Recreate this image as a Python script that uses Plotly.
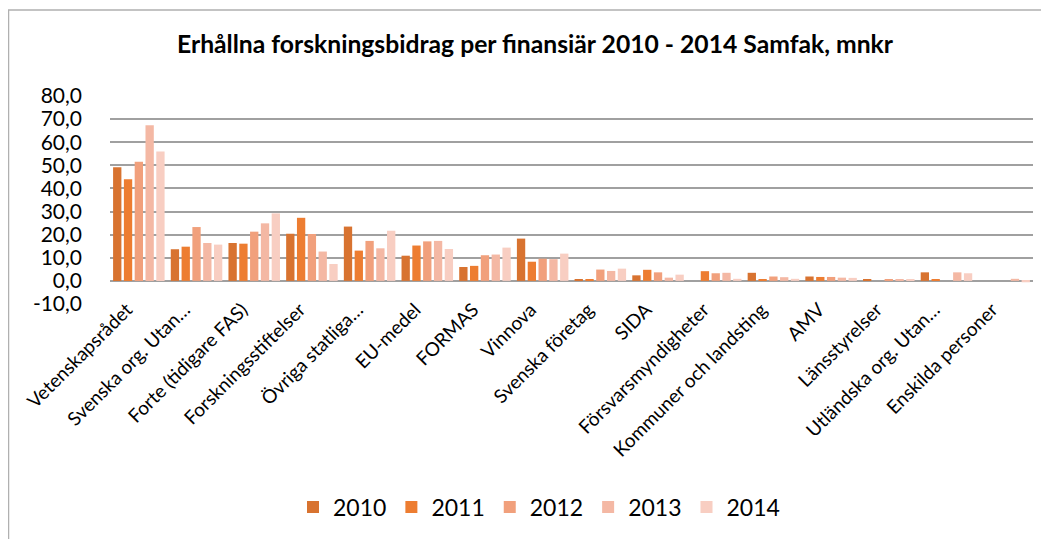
import plotly.graph_objects as go

categories = [
    "Vetenskapsrådet", "Svenska org. Utan…", "Forte (tidigare FAS)",
    "Forskningsstiftelser", "Övriga statliga…", "EU-medel", "FORMAS",
    "Vinnova", "Svenska företag", "SIDA", "Försvarsmyndigheter",
    "Kommuner och landsting", "AMV", "Länsstyrelser",
    "Utländska org. Utan…", "Enskilda personer",
]
years = ["2010", "2011", "2012", "2013", "2014"]
v2010 = [49.2, 13.7, 16.4, 20.4, 23.5, 10.9, 6.0, 18.3, 0.7, 2.4, 0.0, 3.5, 1.9, 0.5, 3.7, 0.0]
v2011 = [44.0, 14.8, 16.1, 27.3, 13.1, 15.3, 6.5, 8.3, 0.4, 4.8, 4.2, 0.6, 1.7, 0.0, 0.4, 0.0]
v2012 = [51.5, 23.3, 21.3, 20.3, 17.3, 17.1, 11.1, 9.6, 4.9, 3.7, 3.3, 1.9, 1.7, 0.4, 0.0, 0.0]
v2013 = [67.3, 16.4, 24.9, 12.7, 14.1, 17.3, 11.4, 9.4, 4.3, 1.4, 3.5, 1.6, 1.4, 0.7, 3.7, 0.9]
v2014 = [56.0, 15.7, 29.2, 7.3, 21.7, 13.8, 14.4, 11.8, 5.3, 2.7, 0.9, 0.9, 1.3, 0.4, 3.3, -0.6]
series = [v2010, v2011, v2012, v2013, v2014]
colors = ["#D87330", "#ED7D31", "#F1A07C", "#F4B8A4", "#F8CEC2"]

y_ticks = [-10, 0, 10, 20, 30, 40, 50, 60, 70, 80]
y_ticktext = [f"{t:.1f}".replace(".", ",") for t in y_ticks]

FONT = "Lato"

fig = go.Figure()
for name, vals, col in zip(years, series, colors):
    fig.add_trace(go.Bar(name=name, x=categories, y=vals, marker_color=col,
                         marker_line_width=0))

# the page body has an 8px margin; target plot area in screen pixels: x 110..1033, y 96..304
OFF = 8
SL, SR, ST, SB = 110, 1033, 96, 304
W, H = 1049 - OFF, 539 - OFF
pw, ph = SR - SL, SB - ST

def px_x(sx):
    return (sx - SL) / pw

def px_y(sy):
    return (SB - sy) / ph

fig.update_layout(
    width=W, height=H,
    margin=dict(l=SL - OFF, r=W - (SR - OFF), t=ST - OFF, b=H - (SB - OFF), pad=0,
                autoexpand=False),
    paper_bgcolor="white", plot_bgcolor="white",
    barmode="group", bargap=0.064, bargroupgap=0.23,
    font=dict(family=FONT, color="#000000"),
    title=dict(text="<b>Erhållna forskningsbidrag per finansiär 2010 - 2014 Samfak, mnkr</b>",
               font=dict(family=FONT, size=24.7, color="#000000"),
               x=(535 - OFF) / W, xref="container", xanchor="center",
               y=1 - (44 - OFF) / H, yref="container", yanchor="middle"),
    legend=dict(orientation="h", x=px_x(539), xanchor="center",
                y=px_y(507), yanchor="middle",
                font=dict(family=FONT, size=23, color="#000000"),
                traceorder="normal"),
    showlegend=True,
)
fig.update_xaxes(tickangle=-45, tickfont=dict(family=FONT, size=19, color="#000000"),
                 showgrid=False, showline=False, ticks="", automargin=False,
                 ticklabelshift=-12, ticklabelstandoff=-10)
fig.update_yaxes(range=[-10, 80], tickvals=y_ticks, ticktext=y_ticktext,
                 tickfont=dict(family=FONT, size=21, color="#000000"),
                 showgrid=True, gridcolor="#A0A0A0", gridwidth=1.5,
                 zeroline=True, zerolinecolor="#A0A0A0", zerolinewidth=1.5,
                 showline=False, ticks="", ticklabelstandoff=27, automargin=False)

# outer chart border (left and top edges visible)
fig.add_shape(type="rect", xref="paper", yref="paper",
              x0=px_x(8.5), x1=px_x(1070), y0=px_y(560), y1=px_y(10),
              line=dict(color="#B0B0B0", width=1.5), fillcolor="rgba(0,0,0,0)",
              layer="below")

fig.write_html("out.html")
